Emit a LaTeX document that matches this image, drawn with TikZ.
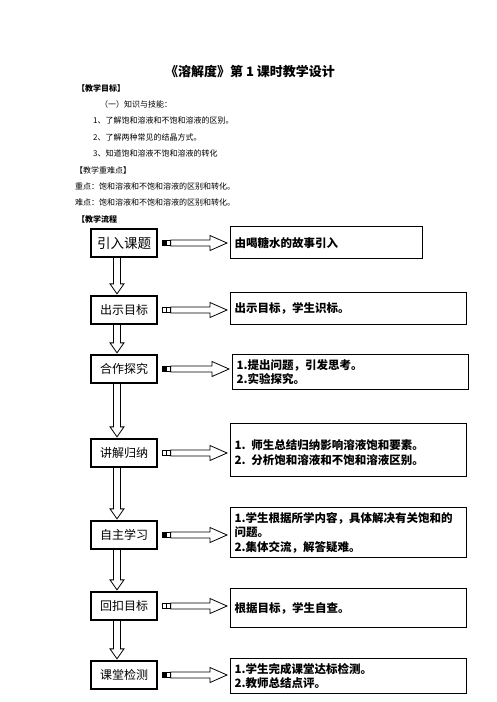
\documentclass[tikz,border=0pt]{standalone}
\usepackage{fontspec}
\setmainfont{Noto Sans CJK SC}

\begin{document}
\begin{tikzpicture}[x=1pt,y=-1pt,
    stepname/.style={draw,line width=1.3pt,minimum width=66pt,minimum height=28pt,inner sep=0pt,
      font=\fontsize{12}{14}\selectfont},
    stepinfo/.style={draw,line width=1.3pt,anchor=north west,inner xsep=4pt,inner ysep=2pt,
      text width=228pt,align=left,font=\bfseries\fontsize{11.5}{14.5}\selectfont},
    bodytext/.style={anchor=west,inner sep=0pt,font=\fontsize{8}{10}\selectfont},
    headtext/.style={bodytext,font=\bfseries\fontsize{8}{10}\selectfont},
    downarrow/.style={line width=0.8pt,to path={
      ([xshift=-3.5pt]\tikztostart) -- ([xshift=-3.5pt,yshift=10pt]\tikztotarget)
      -- ([xshift=-7pt,yshift=10pt]\tikztotarget) -- (\tikztotarget)
      -- ([xshift=7pt,yshift=10pt]\tikztotarget) -- ([xshift=3.5pt,yshift=10pt]\tikztotarget)
      -- ([xshift=3.5pt]\tikztostart)}},
    sidearrow/.style={line width=0.8pt,to path={
      ([xshift=8pt,yshift=3pt]\tikztostart) -- ([xshift=-17pt,yshift=3pt]\tikztotarget)
      -- ([xshift=-17pt,yshift=7.5pt]\tikztotarget) -- (\tikztotarget)
      -- ([xshift=-17pt,yshift=-7.5pt]\tikztotarget) -- ([xshift=-17pt,yshift=-3pt]\tikztotarget)
      -- ([xshift=8pt,yshift=-3pt]\tikztostart) -- cycle}},
    tailbox/.style={line width=0.5pt}]
	\useasboundingbox (0,0) rectangle (496,702);
	
	% heading and aims
	\node[font=\bfseries\fontsize{13}{15}\selectfont] (title) at (250,72) {《溶解度》第 1 课时教学设计};
	\node[headtext] (goalhead) at (77,88) {【教学目标】};
	\node[bodytext] (skills) at (100,104) {（一）知识与技能：};
	\node[bodytext] (aim1) at (93,120) {1、了解饱和溶液和不饱和溶液的区别。};
	\node[bodytext] (aim2) at (93,137) {2、了解两种常见的结晶方式。};
	\node[bodytext] (aim3) at (93,153) {3、知道饱和溶液不饱和溶液的转化};
	\node[bodytext] (keyhead) at (75,170) {【教学重难点】};
	\node[bodytext] (keypoint) at (75,186) {重点：饱和溶液和不饱和溶液的区别和转化。};
	\node[bodytext] (hardpoint) at (75,202) {难点：饱和溶液和不饱和溶液的区别和转化。};
	\node[headtext] (flowhead) at (77,219) {【教学流程};
	
	% steps
	\node[stepname,font=\fontsize{13.5}{15}\selectfont] (intro) at (124,243) {引入课题};
	\node[stepname] (goal) at (124,310) {出示目标};
	\node[stepname] (coop) at (124,369) {合作探究};
	\node[stepname] (expl) at (124,453) {讲解归纳};
	\node[stepname] (self) at (124,535) {自主学习};
	\node[stepname] (check) at (124,606) {回扣目标};
	\node[stepname] (test) at (124,675) {课堂检测};
	
	% what happens in each step
	\node[stepinfo,text width=184pt,minimum height=32pt] (introinfo) at (230,226) {由喝糖水的故事引入};
	\node[stepinfo,minimum height=32pt] (goalinfo) at (230,292) {出示目标，学生识标。};
	\node[stepinfo,minimum height=35pt] (coopinfo) at (232,354) {1.提出问题，引发思考。\\2.实验探究。};
	\node[stepinfo,minimum height=53pt] (explinfo) at (230,423) {\mbox{}\\1. 师生总结归纳影响溶液饱和要素。\\2. 分析饱和溶液和不饱和溶液区别。};
	\node[stepinfo,minimum height=50pt] (selfinfo) at (230,507) {1.学生根据所学内容，具体解决有关饱和的\\问题。\\2.集体交流，解答疑难。};
	\node[stepinfo,minimum height=39pt] (checkinfo) at (230,588) {根据目标，学生自查。};
	\node[stepinfo,minimum height=35pt] (testinfo) at (230,658) {1.学生完成课堂达标检测。\\2.教师总结点评。};
	
	\foreach \a/\b in {intro/goal,goal/coop,coop/expl,expl/self,self/check,check/test}
		\draw[downarrow] ([xshift=-7pt]\a.south) to ([xshift=-7pt,yshift=1.5pt]\b.north);
	
	\foreach \s/\t in {intro/introinfo,goal/goalinfo,coop/coopinfo,expl/explinfo,self/selfinfo,check/checkinfo,test/testinfo}{
		\draw[sidearrow] ([xshift=5pt]\s.east) to ([xshift=-3pt]\s.east -| \t.west);
		\draw[tailbox] ([xshift=5pt,yshift=2.5pt]\s.east) rectangle ([xshift=9pt,yshift=-2.5pt]\s.east)
			([xshift=9pt,yshift=2.5pt]\s.east) rectangle ([xshift=13pt,yshift=-2.5pt]\s.east);
	}
	
	% filled tails
	\foreach \s in {intro,coop,self,test}
		\fill ([xshift=5pt,yshift=3pt]\s.east) rectangle ([xshift=9pt,yshift=-3pt]\s.east);
\end{tikzpicture}
\end{document}
